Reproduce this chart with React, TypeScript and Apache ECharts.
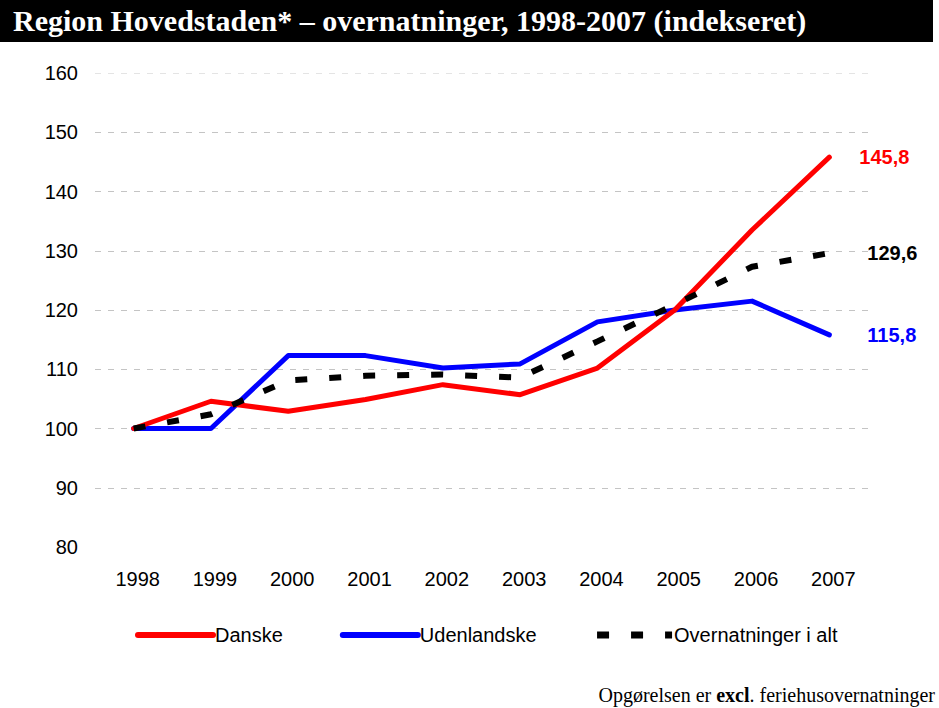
import React, { useEffect, useRef } from "react";
import * as echarts from "echarts";

const years = ["1998", "1999", "2000", "2001", "2002", "2003", "2004", "2005", "2006", "2007"];
const danske = [100, 104.6, 102.9, 104.9, 107.4, 105.7, 110.2, 120.0, 133.5, 145.8];
const udenlandske = [100, 100, 112.3, 112.3, 110.2, 110.9, 118.0, 120.0, 121.5, 115.8];
const overnatninger = [100, 102.4, 108.1, 108.9, 109.1, 108.6, 114.7, 120.9, 127.3, 129.6];

const titleText = "Region Hovedstaden* \u2013 overnatninger, 1998-2007 (indekseret)";

const fmt = (v: number) => v.toFixed(1).replace(".", ",");

export default function App() {
  const ref = useRef<HTMLDivElement>(null);
  useEffect(() => {
    if (!ref.current) return;
    const chart = echarts.init(ref.current, null, { renderer: "svg" });
    const font = "'Liberation Sans', Arial, sans-serif";
    const serif = "'Liberation Serif', 'Times New Roman', serif";
    chart.setOption({
      animation: false,
      backgroundColor: "#ffffff",
      textStyle: { fontFamily: font },
      grid: { left: 95, right: 71, top: 73, bottom: 161, containLabel: false },
      xAxis: {
        type: "category",
        data: years,
        boundaryGap: true,
        axisLine: { show: false },
        axisTick: { show: false },
        axisLabel: { fontSize: 20, color: "#000", margin: 22, fontFamily: font, padding: [0, 0, 0, 8] },
        splitLine: { show: false },
      },
      yAxis: {
        type: "value",
        min: 80,
        max: 160,
        interval: 10,
        axisLine: { show: false },
        axisTick: { show: false },
        axisLabel: { fontSize: 20, color: "#000", margin: 17, fontFamily: font },
        splitLine: {
          show: true,
          lineStyle: {
            color: ["rgba(0,0,0,0)", "#c4c4c4", "#c4c4c4", "#c4c4c4", "#c4c4c4", "#c4c4c4", "#c4c4c4", "#c4c4c4", "#e4e4e4"],
            type: [6, 7],
            width: 1,
          },
        },
      },
      legend: {
        left: 130,
        top: 620,
        itemWidth: 75,
        itemHeight: 14,
        itemGap: 57,
        itemStyle: { opacity: 0 },
        textStyle: { fontSize: 20, color: "#000", fontFamily: font, padding: [0, 0, 0, -3] },
        data: [
          { name: "Danske", lineStyle: { width: 6, color: "#ff0000", cap: "round" } },
          { name: "Udenlandske", lineStyle: { width: 6, color: "#0000ff", cap: "round" } },
          { name: "Overnatninger i alt", lineStyle: { width: 7, color: "#000", type: [12, 22], cap: "butt" } },
        ],
      },
      series: [
        {
          name: "Danske",
          type: "line",
          data: danske,
          symbol: "none",
          lineStyle: { color: "#ff0000", width: 5, cap: "round", join: "round" },
          itemStyle: { color: "#ff0000" },
          z: 3,
          endLabel: {
            show: true,
            distance: 30,
            formatter: (p: any) => fmt(p.value),
            color: "#ff0000",
            fontWeight: "bold",
            fontSize: 20,
            fontFamily: font,
          },
        },
        {
          name: "Udenlandske",
          type: "line",
          data: udenlandske,
          symbol: "none",
          lineStyle: { color: "#0000ff", width: 5, cap: "round", join: "round" },
          itemStyle: { color: "#0000ff" },
          z: 2,
          endLabel: {
            show: true,
            distance: 38,
            formatter: (p: any) => fmt(p.value),
            color: "#0000ff",
            fontWeight: "bold",
            fontSize: 20,
            fontFamily: font,
          },
        },
        {
          name: "Overnatninger i alt",
          type: "line",
          data: overnatninger,
          symbol: "none",
          lineStyle: { color: "#000000", width: 6, type: [12, 22], cap: "butt" },
          itemStyle: { color: "#000000" },
          z: 4,
          endLabel: {
            show: true,
            distance: 38,
            formatter: (p: any) => fmt(p.value),
            color: "#000000",
            fontWeight: "bold",
            fontSize: 20,
            fontFamily: font,
          },
        },
      ],
      graphic: [
        { type: "rect", left: 0, top: 0, shape: { width: 933, height: 42 }, style: { fill: "#000" }, z: 10 },
        {
          type: "text",
          left: 13,
          top: 5,
          z: 11,
          style: { text: titleText, fill: "#fff", font: `bold 30px ${serif}` },
        },
        {
          type: "text",
          right: 4,
          top: 685,
          z: 11,
          style: {
            text: "Opgørelsen er {b|excl}. feriehusovernatninger",
            fill: "#000",
            font: `20px ${serif}`,
            rich: { b: { fontWeight: "bold", fontSize: 20, fontFamily: serif, fill: "#000" } },
          },
        },
      ],
    });
    return () => chart.dispose();
  }, []);
  return <div ref={ref} style={{ position: "absolute", left: 0, top: 0, width: 939, height: 708 }} />;
}
